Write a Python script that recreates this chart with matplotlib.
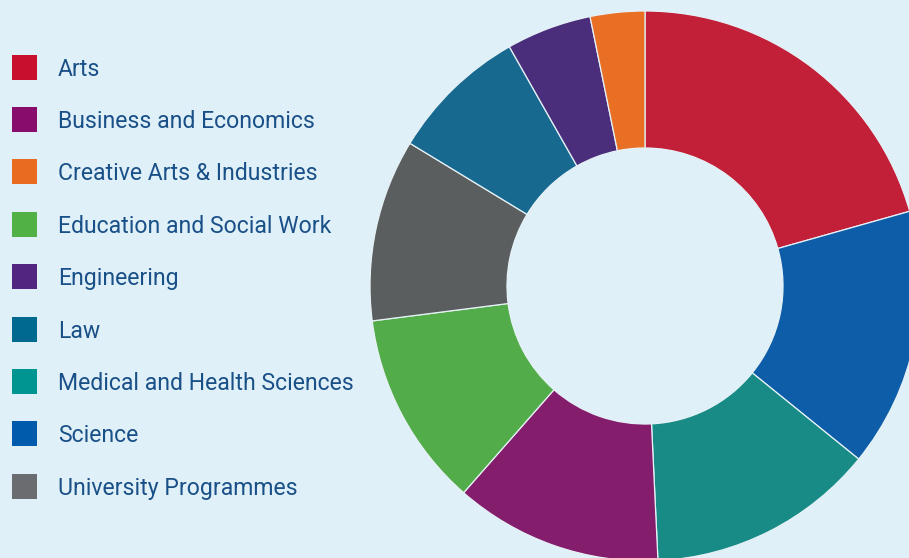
import matplotlib
matplotlib.use("Agg")
import matplotlib.pyplot as plt
from matplotlib.patches import Rectangle

# Data (legend order)
categories = ["Arts", "Business and Economics", "Creative Arts & Industries",
              "Education and Social Work", "Engineering", "Law",
              "Medical and Health Sciences", "Science", "University Programmes"]
shares = [20.6, 12.2, 3.2, 11.5, 5.0, 8.1, 13.4, 15.2, 10.7]
# order of wedges clockwise from 12 o'clock
wedge_order = ["Arts", "Science", "Medical and Health Sciences",
               "Business and Economics", "Education and Social Work",
               "University Programmes", "Law", "Engineering",
               "Creative Arts & Industries"]

wedge_colors = {
    "Arts": "#c21f39", "Business and Economics": "#841e6c",
    "Creative Arts & Industries": "#e96f25", "Education and Social Work": "#52ac4a",
    "Engineering": "#4a2e7b", "Law": "#17698f",
    "Medical and Health Sciences": "#188b87", "Science": "#0e5da8",
    "University Programmes": "#5b5e5f",
}
legend_colors = {
    "Arts": "#c8102e", "Business and Economics": "#870c6c",
    "Creative Arts & Industries": "#e96b20", "Education and Social Work": "#52b145",
    "Engineering": "#512580", "Law": "#00698f",
    "Medical and Health Sciences": "#009590", "Science": "#005bac",
    "University Programmes": "#6b6c70",
}

BG = "#dff0f8"
TEXT = "#1a5088"
W, H = 909, 558

fig = plt.figure(figsize=(W / 100, H / 100), dpi=100, facecolor=BG)
ax = fig.add_axes([0, 0, 1, 1])
ax.set_facecolor(BG)

vals = [shares[categories.index(c)] for c in wedge_order]
cols = [wedge_colors[c] for c in wedge_order]
ax.pie(vals, colors=cols, startangle=90, counterclock=False,
       center=(645, H - 286), radius=275, frame=True,
       wedgeprops=dict(width=137, edgecolor="#e6f2f7", linewidth=0.9))
ax.set_xlim(0, W)
ax.set_ylim(0, H)
ax.set_aspect("equal")
ax.axis("off")

# legend
y0, dy = 67, 52.4
for i, c in enumerate(categories):
    yc = H - (y0 + i * dy)
    ax.add_patch(Rectangle((12, yc - 12.5), 25, 25, facecolor=legend_colors[c],
                           edgecolor="none"))
    ax.text(58, yc - 8.5, c, fontsize=16.6, color=TEXT, va="baseline", ha="left",
            family="Roboto")

fig.savefig("out.png", dpi=100, facecolor=BG)
